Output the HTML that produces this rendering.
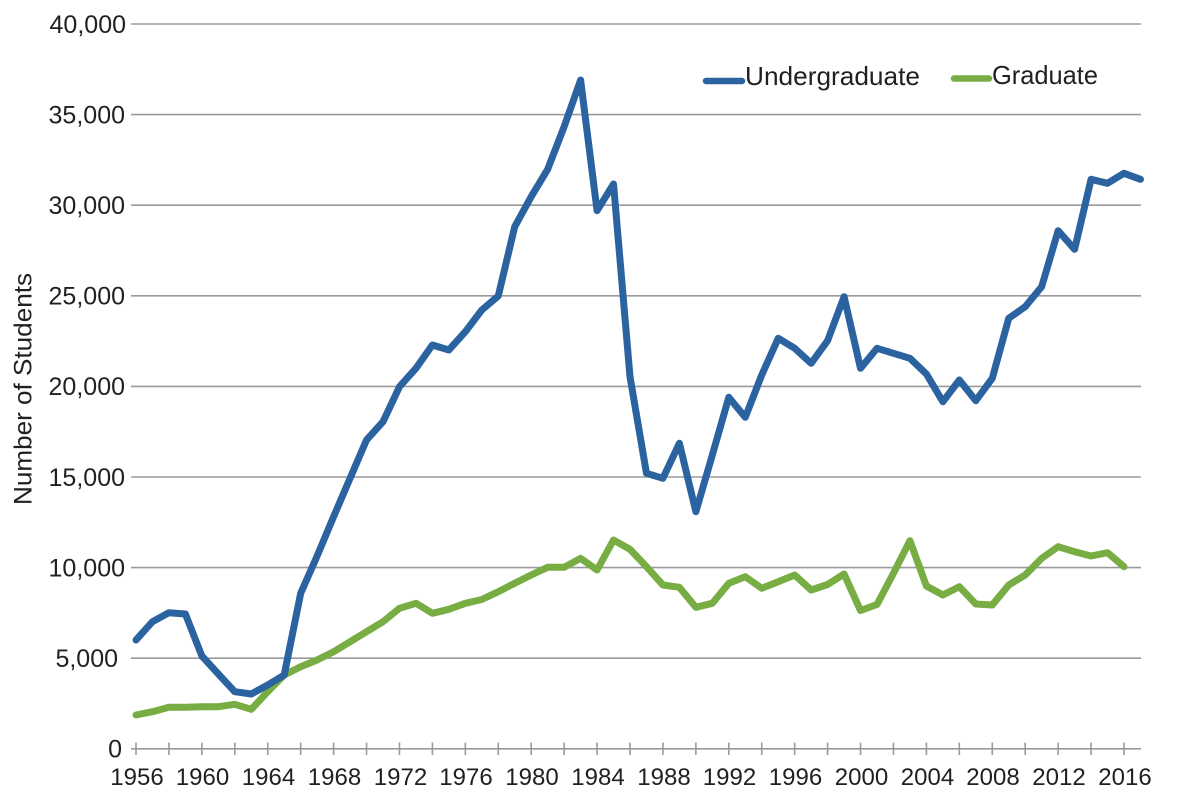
<!DOCTYPE html>
<html>
<head>
<meta charset="utf-8">
<style>
  html, body { margin: 0; padding: 0; background: #ffffff; }
  svg { display: block; }
  text { font-family: "Liberation Sans", "DejaVu Sans", sans-serif; fill: #231f20; }
</style>
</head>
<body>
<svg width="1180" height="804" viewBox="0 0 1180 804" xmlns="http://www.w3.org/2000/svg">
  <rect x="0" y="0" width="1180" height="804" fill="#ffffff"/>

  <!-- gridlines -->
  <g stroke="#9a9a9a" stroke-width="1.6">
    <line x1="131" y1="24" x2="1141" y2="24"/>
    <line x1="131" y1="114.6" x2="1141" y2="114.6"/>
    <line x1="131" y1="205.2" x2="1141" y2="205.2"/>
    <line x1="131" y1="295.8" x2="1141" y2="295.8"/>
    <line x1="131" y1="386.4" x2="1141" y2="386.4"/>
    <line x1="131" y1="477" x2="1141" y2="477"/>
    <line x1="131" y1="567.6" x2="1141" y2="567.6"/>
    <line x1="131" y1="658.2" x2="1141" y2="658.2"/>
    <line x1="131" y1="748.8" x2="1141" y2="748.8"/>
  </g>

  <!-- x ticks every 2 years -->
  <g stroke="#9a9a9a" stroke-width="1.6">
    <line x1="136" y1="742.5" x2="136" y2="755"/>
    <line x1="168.93" y1="742.5" x2="168.93" y2="755"/>
    <line x1="201.87" y1="742.5" x2="201.87" y2="755"/>
    <line x1="234.8" y1="742.5" x2="234.8" y2="755"/>
    <line x1="267.73" y1="742.5" x2="267.73" y2="755"/>
    <line x1="300.67" y1="742.5" x2="300.67" y2="755"/>
    <line x1="333.6" y1="742.5" x2="333.6" y2="755"/>
    <line x1="366.53" y1="742.5" x2="366.53" y2="755"/>
    <line x1="399.47" y1="742.5" x2="399.47" y2="755"/>
    <line x1="432.4" y1="742.5" x2="432.4" y2="755"/>
    <line x1="465.33" y1="742.5" x2="465.33" y2="755"/>
    <line x1="498.27" y1="742.5" x2="498.27" y2="755"/>
    <line x1="531.2" y1="742.5" x2="531.2" y2="755"/>
    <line x1="564.13" y1="742.5" x2="564.13" y2="755"/>
    <line x1="597.07" y1="742.5" x2="597.07" y2="755"/>
    <line x1="630" y1="742.5" x2="630" y2="755"/>
    <line x1="662.93" y1="742.5" x2="662.93" y2="755"/>
    <line x1="695.87" y1="742.5" x2="695.87" y2="755"/>
    <line x1="728.8" y1="742.5" x2="728.8" y2="755"/>
    <line x1="761.73" y1="742.5" x2="761.73" y2="755"/>
    <line x1="794.67" y1="742.5" x2="794.67" y2="755"/>
    <line x1="827.6" y1="742.5" x2="827.6" y2="755"/>
    <line x1="860.53" y1="742.5" x2="860.53" y2="755"/>
    <line x1="893.47" y1="742.5" x2="893.47" y2="755"/>
    <line x1="926.4" y1="742.5" x2="926.4" y2="755"/>
    <line x1="959.33" y1="742.5" x2="959.33" y2="755"/>
    <line x1="992.27" y1="742.5" x2="992.27" y2="755"/>
    <line x1="1025.2" y1="742.5" x2="1025.2" y2="755"/>
    <line x1="1058.13" y1="742.5" x2="1058.13" y2="755"/>
    <line x1="1091.07" y1="742.5" x2="1091.07" y2="755"/>
    <line x1="1124" y1="742.5" x2="1124" y2="755"/>
  </g>

  <!-- y tick labels -->
  <g font-size="25" text-anchor="end">
    <text x="126" y="32.8">40,000</text>
    <text x="125" y="123.4">35,000</text>
    <text x="125" y="214">30,000</text>
    <text x="125" y="304.6">25,000</text>
    <text x="125" y="395.2">20,000</text>
    <text x="125" y="485.8">15,000</text>
    <text x="125" y="576.4">10,000</text>
    <text x="118" y="667">5,000</text>
    <text x="122" y="757.6">0</text>
  </g>

  <!-- x tick labels -->
  <g font-size="24" text-anchor="middle">
    <text x="137" y="785">1956</text>
    <text x="202.5" y="785">1960</text>
    <text x="268.5" y="785">1964</text>
    <text x="334.5" y="785">1968</text>
    <text x="400.5" y="785">1972</text>
    <text x="466" y="785">1976</text>
    <text x="532" y="785">1980</text>
    <text x="598" y="785">1984</text>
    <text x="664" y="785">1988</text>
    <text x="729.5" y="785">1992</text>
    <text x="795.5" y="785">1996</text>
    <text x="861.5" y="785">2000</text>
    <text x="927.5" y="785">2004</text>
    <text x="993" y="785">2008</text>
    <text x="1059" y="785">2012</text>
    <text x="1125" y="785">2016</text>
  </g>

  <!-- y axis title -->
  <text x="0" y="0" font-size="25" text-anchor="middle" textLength="232" lengthAdjust="spacingAndGlyphs"
        transform="translate(31.5,389) rotate(-90)">Number of Students</text>

  <!-- Graduate series -->
  <polyline fill="none" stroke="#77ad42" stroke-width="7" stroke-linejoin="round" stroke-linecap="round"
    points="136,715 152.47,711.7 168.93,707.3 185.4,707.3 201.87,706.7 218.33,706.7 234.8,704.3 251.27,709.3 267.73,691.7 284.2,675 300.67,666.7 317.13,660 333.6,651.7 350.07,641.7 366.53,631.7 383,621.7 399.47,608.3 415.93,603.3 432.4,613.3 448.87,609.3 465.33,603.3 481.8,599.5 498.27,591.7 514.73,583.3 531.2,575 547.67,567.3 564.13,567.3 580.6,558.3 597.07,570 613.53,540 630,549.3 646.47,566.7 662.93,585 679.4,587.3 695.87,607.3 712.33,603.3 728.8,583.3 745.27,576.7 761.73,588.3 778.2,581.7 794.67,575 811.13,590 827.6,584.5 844.07,574 860.53,610.5 877,604.5 893.47,573.3 909.93,540.7 926.4,586 942.87,595 959.33,586.7 975.8,604 992.27,605 1008.73,585 1025.2,575 1041.67,558.3 1058.13,546.7 1074.6,551.7 1091.07,556 1107.53,552.7 1124,566.7"/>

  <!-- Undergraduate series -->
  <polyline fill="none" stroke="#2b62a0" stroke-width="7" stroke-linejoin="round" stroke-linecap="round"
    points="136,640 152.47,621.7 168.93,612.7 185.4,614 201.87,656 218.33,674 234.8,691.7 251.27,694 267.73,685 284.2,675 300.67,593.3 317.13,556 333.6,516.7 350.07,478.3 366.53,440 383,421.7 399.47,386.7 415.93,368.3 432.4,345 448.87,350 465.33,331.7 481.8,310 498.27,296 514.73,226.7 531.2,196.7 547.67,169.3 564.13,126.7 580.6,80 597.07,210.7 613.53,184 630,376.7 646.47,473.3 662.93,478.3 679.4,443.3 695.87,511.7 712.33,455 728.8,397.3 745.27,417.3 761.73,375 778.2,338.3 794.67,348.3 811.13,363.3 827.6,340.7 844.07,296.7 860.53,368.3 877,348.3 893.47,353.3 909.93,358.3 926.4,374 942.87,401.7 959.33,380 975.8,400.7 992.27,378.3 1008.73,318.3 1025.2,306.7 1041.67,286.7 1058.13,230.7 1074.6,249.3 1091.07,179.3 1107.53,183.3 1124,173.3 1140.47,179.3"/>

  <!-- legend -->
  <line x1="706" y1="81" x2="742" y2="81" stroke="#2b62a0" stroke-width="6.5" stroke-linecap="round"/>
  <text x="745" y="85" font-size="26" textLength="175" lengthAdjust="spacingAndGlyphs">Undergraduate</text>
  <line x1="954" y1="78.5" x2="989" y2="78.5" stroke="#77ad42" stroke-width="6.5" stroke-linecap="round"/>
  <text x="992" y="84" font-size="26" textLength="106" lengthAdjust="spacingAndGlyphs">Graduate</text>
</svg>
</body>
</html>
